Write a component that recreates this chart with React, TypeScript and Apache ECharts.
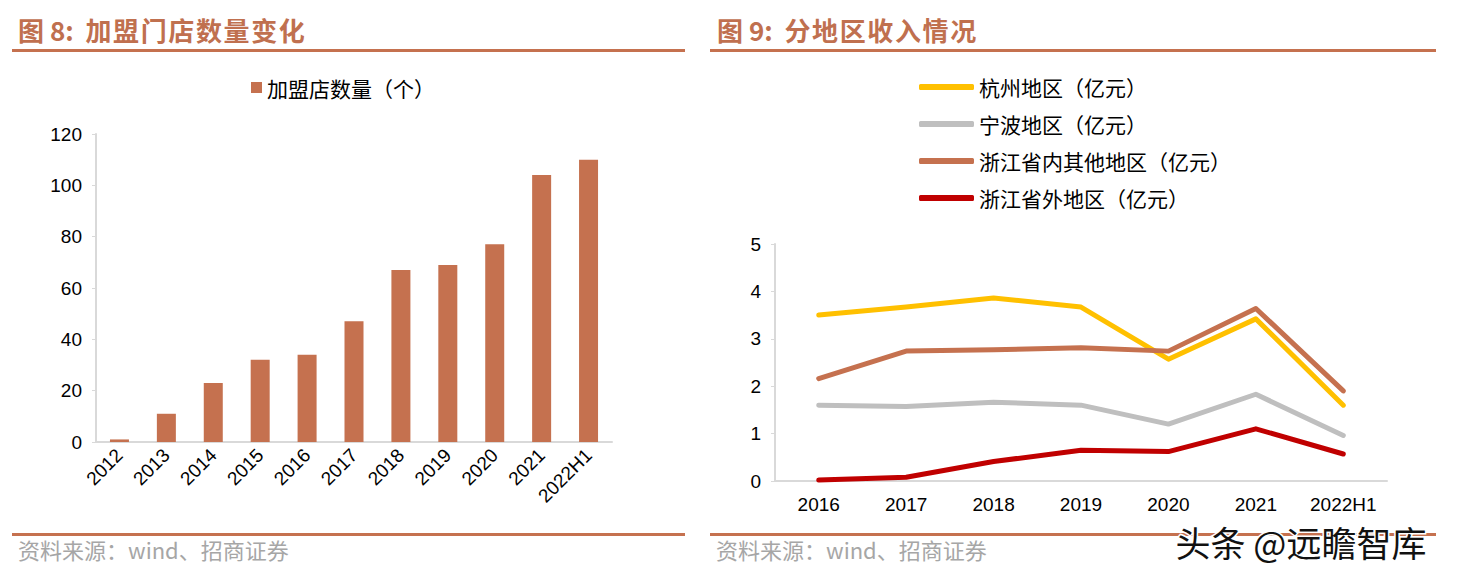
import React, { useEffect, useRef } from "react";
import * as echarts from "echarts";

const barCategories = ["2012", "2013", "2014", "2015", "2016", "2017", "2018", "2019", "2020", "2021", "2022H1"];
const storeCounts = [1, 11, 23, 32, 34, 47, 67, 69, 77, 104, 110];
const barSeriesName = "加盟店数量（个）";

const lineCategories = ["2016", "2017", "2018", "2019", "2020", "2021", "2022H1"];
const hangzhou = [3.5, 3.67, 3.86, 3.67, 2.57, 3.42, 1.6];
const ningbo = [1.6, 1.57, 1.66, 1.6, 1.2, 1.83, 0.96];
const otherInProvince = [2.16, 2.74, 2.77, 2.81, 2.74, 3.64, 1.9];
const outOfProvince = [0.02, 0.08, 0.41, 0.65, 0.62, 1.1, 0.57];
const lineNames = ["杭州地区（亿元）", "宁波地区（亿元）", "浙江省内其他地区（亿元）", "浙江省外地区（亿元）"];
const lineColors = ["#FFC000", "#BFBFBF", "#C5714F", "#C00000"];

const BROWN = "#C5714F";
const numFont = "'Liberation Sans', Arial, sans-serif";
const cjkFont = "'Noto Sans CJK SC', sans-serif";

const spaced = (s: string) => s.split("").join("\u200A");

export default function App() {
  const ref = useRef<HTMLDivElement>(null);
  useEffect(() => {
    if (!ref.current) return;
    const chart = echarts.init(ref.current, undefined, { renderer: "svg" });
    const lineData = [hangzhou, ningbo, otherInProvince, outOfProvince];
    const titleFont = `bold 26px ${cjkFont}`;
    const option: any = {
      animation: false,
      backgroundColor: "#fff",
      textStyle: { fontFamily: cjkFont },
      graphic: [
        { type: "text", left: 18, top: 16, style: { text: "图 8:  " + spaced("加盟门店数量变化"), fill: "#C0704F", font: titleFont } },
        { type: "text", left: 717, top: 16, style: { text: "图 9:  " + spaced("分地区收入情况"), fill: "#C0704F", font: titleFont } },
        { type: "rect", shape: { x: 12, y: 49, width: 673, height: 3 }, style: { fill: BROWN } },
        { type: "rect", shape: { x: 710, y: 49, width: 726, height: 3 }, style: { fill: BROWN } },
        { type: "rect", shape: { x: 12, y: 533, width: 673, height: 3 }, style: { fill: BROWN } },
        { type: "rect", shape: { x: 710, y: 533, width: 726, height: 3 }, style: { fill: BROWN } },
        { type: "text", left: 18, top: 538, style: { text: "资料来源：wind、招商证券", fill: "#A6A6A6", font: `22px ${cjkFont}` } },
        { type: "text", left: 716, top: 538, style: { text: "资料来源：wind、招商证券", fill: "#A6A6A6", font: `22px ${cjkFont}` } },
        { type: "text", left: 1174, top: 522, style: { text: "头条 @远瞻智库", fill: "#111", stroke: "#fff", lineWidth: 3, font: `35px ${cjkFont}` } },
      ],
      legend: [
        {
          data: [barSeriesName],
          left: 246,
          top: 72,
          icon: "rect",
          itemWidth: 11,
          itemHeight: 11,
          itemGap: 4,
          textStyle: { fontSize: 21, color: "#000", fontFamily: cjkFont },
        },
        {
          data: lineNames,
          orient: "vertical",
          left: 914,
          top: 71,
          icon: "roundRect",
          itemWidth: 55,
          itemHeight: 6,
          itemGap: 15,
          textStyle: { fontSize: 21, lineHeight: 22, color: "#000", fontFamily: cjkFont },
        },
      ],
      grid: [
        { left: 96, top: 134, width: 516, height: 308 },
        { left: 775, top: 244, width: 612, height: 237 },
      ],
      xAxis: [
        {
          type: "category",
          gridIndex: 0,
          data: barCategories,
          axisLine: { lineStyle: { color: "#D9D9D9", width: 2 } },
          axisTick: { show: false },
          axisLabel: { rotate: 45, color: "#000", fontSize: 19, fontFamily: numFont, margin: 10 },
        },
        {
          type: "category",
          gridIndex: 1,
          data: lineCategories,
          axisLine: { lineStyle: { color: "#D9D9D9", width: 2 } },
          axisTick: { show: false },
          axisLabel: { color: "#000", fontSize: 19, fontFamily: numFont, margin: 14 },
        },
      ],
      yAxis: [
        {
          type: "value",
          gridIndex: 0,
          min: 0,
          max: 120,
          interval: 20,
          axisLine: { show: true, lineStyle: { color: "#D9D9D9", width: 2 } },
          axisTick: { show: true, length: 4, lineStyle: { color: "#D9D9D9" } },
          splitLine: { show: false },
          axisLabel: { color: "#000", fontSize: 19, fontFamily: numFont, margin: 14 },
        },
        {
          type: "value",
          gridIndex: 1,
          min: 0,
          max: 5,
          interval: 1,
          axisLine: { show: true, lineStyle: { color: "#D9D9D9", width: 2 } },
          axisTick: { show: true, length: 4, lineStyle: { color: "#D9D9D9" } },
          splitLine: { show: false },
          axisLabel: { color: "#000", fontSize: 19, fontFamily: numFont, margin: 14 },
        },
      ],
      series: [
        {
          name: barSeriesName,
          type: "bar",
          xAxisIndex: 0,
          yAxisIndex: 0,
          data: storeCounts,
          barWidth: 19,
          itemStyle: { color: BROWN },
        },
        ...lineNames.map((name, i) => ({
          name,
          type: "line",
          xAxisIndex: 1,
          yAxisIndex: 1,
          data: lineData[i],
          showSymbol: false,
          symbol: "none",
          lineStyle: { color: lineColors[i], width: 5, cap: "round", join: "round" },
          itemStyle: { color: lineColors[i] },
        })),
      ],
    };
    chart.setOption(option);
    return () => chart.dispose();
  }, []);
  return (
    <div
      ref={ref}
      style={{ position: "absolute", left: 0, top: 0, width: 1459, height: 573 }}
    />
  );
}
